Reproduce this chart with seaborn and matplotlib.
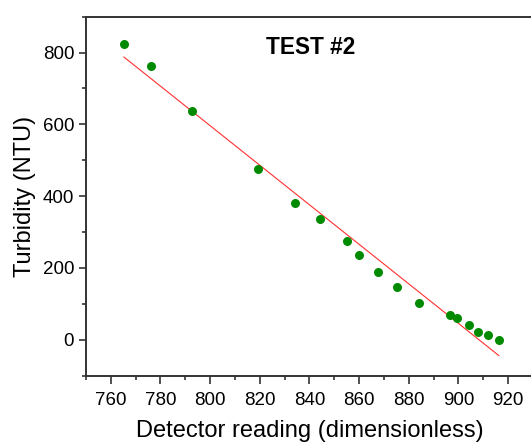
import matplotlib
matplotlib.use("Agg")
import matplotlib.pyplot as plt
from matplotlib.ticker import MultipleLocator
import seaborn as sns
import pandas as pd

detector = [765.2, 776.3, 792.6, 819.4, 834.2, 844.4, 855.0, 860.0, 867.4,
            875.2, 884.2, 896.4, 899.5, 904.2, 907.7, 911.7, 916.3]
turbidity = [825, 763, 638, 475, 381, 336, 276, 237, 189,
             148, 102, 70, 60, 40, 23, 13, 0]
x_ticks = [760, 780, 800, 820, 840, 860, 880, 900, 920]
y_ticks = [0, 200, 400, 600, 800]
title = "TEST #2"
xlabel = "Detector reading (dimensionless)"
ylabel = "Turbidity (NTU)"

df = pd.DataFrame({"x": detector, "y": turbidity})

sns.set_style("ticks")
plt.rcParams["font.family"] = ["Liberation Sans", "DejaVu Sans"]
plt.rcParams["text.color"] = "black"
plt.rcParams["axes.labelcolor"] = "black"

fig = plt.figure(figsize=(5.31, 4.43), dpi=100)
ax = fig.add_axes([86 / 531, (443 - 375.7) / 443, 447 / 531, 359 / 443])

sns.regplot(data=df, x="x", y="y", ax=ax, ci=None,
            scatter_kws=dict(s=42, color="#008a00", linewidths=0, alpha=1, zorder=3),
            line_kws=dict(color="#ff3030", linewidth=0.8, zorder=2))

ax.set_xlim(750, 930)
ax.set_ylim(-100, 900)
ax.set_xticks(x_ticks)
ax.set_yticks(y_ticks)
ax.xaxis.set_minor_locator(MultipleLocator(10))
ax.yaxis.set_minor_locator(MultipleLocator(100))

ax.tick_params(axis="both", which="major", direction="out", length=5, width=1.1,
               labelsize=13.5, color="#222222", labelcolor="black")
ax.tick_params(axis="x", which="major", length=6, pad=6)
ax.tick_params(axis="y", which="major", pad=3.5)
ax.tick_params(axis="both", which="minor", direction="out", length=3, width=1.1,
               color="#222222")

for side in ["left", "bottom", "top", "right"]:
    ax.spines[side].set_visible(True)
    ax.spines[side].set_color("#333333")
    ax.spines[side].set_linewidth(1.4)

ax.set_xlabel(xlabel, fontsize=17, labelpad=7.5, color="black")
ax.set_ylabel(ylabel, fontsize=17, labelpad=5, color="black")
ax.text(0.503, 0.914, title, transform=ax.transAxes, ha="center", va="center",
        fontsize=16.3, fontweight="bold", color="black")

fig.savefig("out.png", dpi=100)
